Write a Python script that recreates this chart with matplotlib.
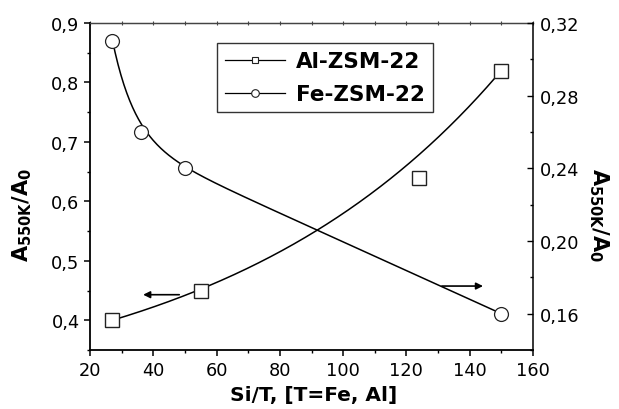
import numpy as np
import matplotlib
matplotlib.use("Agg")
import matplotlib.pyplot as plt
from matplotlib.lines import Line2D
from matplotlib.ticker import MultipleLocator, FixedLocator

plt.rcParams['font.family'] = ['DejaVu Sans']
plt.rcParams['mathtext.default'] = 'regular'

# ---- data ----
al_x = np.array([27, 55, 124, 150])
al_y = np.array([0.40, 0.45, 0.64, 0.82])
fe_x = np.array([27, 36, 50, 150])
fe_y = np.array([0.31, 0.26, 0.24, 0.16])
series_names = ["Al-ZSM-22", "Fe-ZSM-22"]
x_ticks = [20, 40, 60, 80, 100, 120, 140, 160]
left_ticks = [0.4, 0.5, 0.6, 0.7, 0.8, 0.9]
left_labels = ["0,4", "0,5", "0,6", "0,7", "0,8", "0,9"]
right_ticks = [0.16, 0.20, 0.24, 0.28, 0.32]
right_labels = ["0,16", "0,20", "0,24", "0,28", "0,32"]

# fitted-curve parameters as drawn in the original figure
# Al: y = a + b*exp(x/t)
al_fit = dict(a=0.2562, b=0.1065, t=90.0)
# Fe: y = a + b*exp(-x/t) + c*x
fe_fit = dict(a=0.2785, b=2.56, t=7.0, c=-0.00079)
fit_range = (27, 150)


def al_curve(x):
    return al_fit['a'] + al_fit['b'] * np.exp(x / al_fit['t'])


def fe_curve(x):
    return fe_fit['a'] + fe_fit['b'] * np.exp(-x / fe_fit['t']) + fe_fit['c'] * x


xs = np.linspace(fit_range[0], fit_range[1], 400)

fig = plt.figure(figsize=(6.19, 4.10), dpi=100)
ax = fig.add_axes([90 / 619, 59 / 410, 443 / 619, 327 / 410])
ax2 = ax.twinx()

ax.plot(xs, al_curve(xs), color='k', lw=1.1, zorder=2)
ax.plot(al_x, al_y, ls='none', marker='s', ms=9.5, mfc='white', mec='#222222', mew=1.0, zorder=3)
ax2.plot(xs, fe_curve(xs), color='k', lw=1.1, zorder=2)
ax2.plot(fe_x, fe_y, ls='none', marker='o', ms=10, mfc='white', mec='#222222', mew=0.9, zorder=3)

ax.set_xlim(20, 160)
ax.set_ylim(0.35, 0.9)
ax2.set_ylim(0.14, 0.32)

ax.xaxis.set_major_locator(FixedLocator(x_ticks))
ax.xaxis.set_minor_locator(MultipleLocator(10))
ax.set_xticklabels([str(v) for v in x_ticks])
ax.yaxis.set_major_locator(FixedLocator(left_ticks))
ax.set_yticklabels(left_labels)
ax.yaxis.set_minor_locator(MultipleLocator(0.05))
ax2.yaxis.set_major_locator(FixedLocator(right_ticks))
ax2.set_yticklabels(right_labels)
ax2.yaxis.set_minor_locator(MultipleLocator(0.02))

ax.tick_params(axis='both', which='major', direction='out', length=4, width=1.1, labelsize=12.8, pad=4)
ax.tick_params(axis='both', which='minor', direction='out', length=2.4, width=1.0)
ax.tick_params(axis='y', which='major', pad=3.5)
ax2.tick_params(axis='y', which='major', direction='in', length=4, width=1.0, labelsize=12.8, pad=5)
ax2.tick_params(axis='y', which='minor', direction='in', length=2.4, width=1.0)

for s in ['left', 'bottom']:
    ax.spines[s].set_linewidth(1.3)
ax.spines['right'].set_visible(False)
ax.spines['top'].set_linewidth(0.9)
ax.spines['top'].set_color('#444444')
for s in ['left', 'bottom', 'top']:
    ax2.spines[s].set_visible(False)
ax2.spines['right'].set_linewidth(1.1)

sec = ax.secondary_xaxis('top')
sec.set_xticks(list(range(20, 161, 10)))
sec.tick_params(direction='inout', length=3, width=0.8, labeltop=False, colors='#444444')
sec.spines['top'].set_linewidth(0.9)
sec.spines['top'].set_color('#444444')

# arrows
ax.annotate('', xy=(36.8, 0.443), xytext=(48.2, 0.443),
            arrowprops=dict(arrowstyle='-|>', mutation_scale=10, lw=1.2, color='k', shrinkA=0, shrinkB=0))
ax2.annotate('', xy=(144.2, 0.1752), xytext=(131.2, 0.1752),
             arrowprops=dict(arrowstyle='-|>', mutation_scale=10, lw=1.2, color='k', shrinkA=0, shrinkB=0))

# legend
handles = [
    Line2D([], [], color='k', lw=0.9, marker='s', ms=5, mfc='white', mec='#222222', mew=0.8),
    Line2D([], [], color='k', lw=0.9, marker='o', ms=5.5, mfc='white', mec='#222222', mew=0.8),
]
leg = ax.legend(handles, series_names, loc='upper left', bbox_to_anchor=(0.286, 0.939),
                prop={'size': 15.5, 'weight': 'bold'}, frameon=True, fancybox=False,
                handlelength=2.8, handletextpad=0.5, borderpad=0.38, labelspacing=0.6,
                borderaxespad=0)
leg.get_frame().set_edgecolor('k')
leg.get_frame().set_linewidth(1.0)
leg.set_zorder(5)

# labels
fig.text(314 / 619, 1 - 396 / 410, 'Si/T, [T=Fe, Al]', ha='center', va='center',
         fontsize=14.5, fontweight='bold')
fig.text(22.5 / 619, 1 - 215 / 410, 'A$_{550K}$/A$_0$', ha='center', va='center',
         rotation=90, fontsize=15, fontweight='bold')
fig.text(599 / 619, 1 - 215 / 410, 'A$_{550K}$/A$_0$', ha='center', va='center',
         rotation=270, fontsize=15, fontweight='bold')

fig.savefig('out.png', dpi=100)
